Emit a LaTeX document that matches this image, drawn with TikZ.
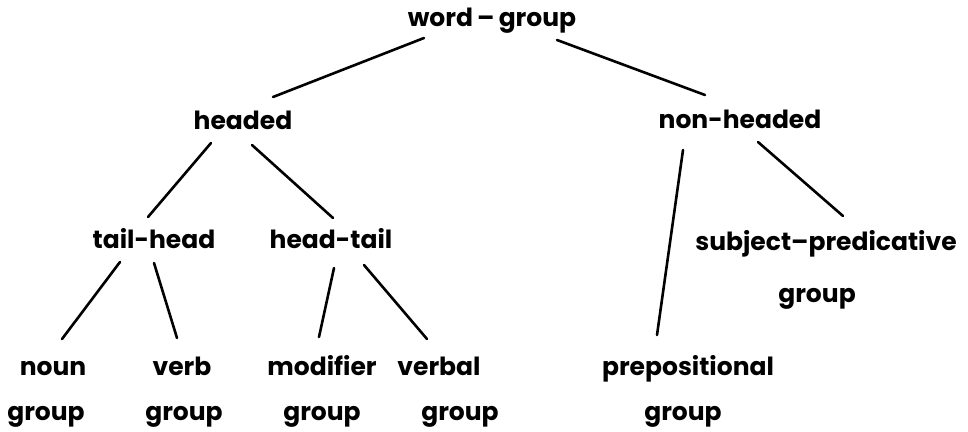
\documentclass[tikz,border=0pt]{standalone}
\usepackage{fontspec}
\setmainfont{Poppins}
\begin{document}
\begin{tikzpicture}[x=1pt,y=-1pt,
  lbl/.style={anchor=base,inner sep=0pt,font=\fontsize{25}{30}\selectfont\bfseries},
  edge/.style={line width=2.6pt,line cap=round}]
\useasboundingbox (0,0) rectangle (968,431);
% nodes
\node[lbl] (wg) at (492,27) {word\,–\,group};
\node[lbl] (hd) at (243,129) {headed};
\node[lbl] (nh) at (740,128) {non-headed};
\node[lbl] (th) at (154,248) {tail-head};
\node[lbl] (ht) at (331,248) {head-tail};
\node[lbl] (sp) at (826,250) {subject–predicative};
\node[lbl] (spg) at (817,302) {group};
\node[lbl] (noun) at (53,375) {noun};
\node[lbl] (verb) at (182,375) {verb};
\node[lbl] (mod) at (322,375) {modifier};
\node[lbl] (vbl) at (439,375) {verbal};
\node[lbl] (prep) at (688,375) {prepositional};
\node[lbl] (g1) at (46,420) {group};
\node[lbl] (g2) at (184,420) {group};
\node[lbl] (g3) at (322,420) {group};
\node[lbl] (g4) at (460,420) {group};
\node[lbl] (g5) at (683,420) {group};
% connectors
\draw[edge] ([shift={(-68,11)}]wg.base) -- ([shift={(30,-32)}]hd.base);
\draw[edge] ([shift={(65,13)}]wg.base) -- ([shift={(-35,-33)}]nh.base);
\draw[edge] ([shift={(-32,14)}]hd.base) -- ([shift={(-6,-31)}]th.base);
\draw[edge] ([shift={(9,16)}]hd.base) -- ([shift={(2,-30)}]ht.base);
\draw[edge] ([shift={(-57,22)}]nh.base) -- ([shift={(-31,-40)}]prep.base);
\draw[edge] ([shift={(18,14)}]nh.base) -- ([shift={(17,-34)}]sp.base);
\draw[edge] ([shift={(-34,14)}]th.base) -- ([shift={(9,-36)}]noun.base);
\draw[edge] ([shift={(0,15)}]th.base) -- ([shift={(-5,-37)}]verb.base);
\draw[edge] ([shift={(3,20)}]ht.base) -- ([shift={(-3,-38)}]mod.base);
\draw[edge] ([shift={(33,17)}]ht.base) -- ([shift={(-12,-36)}]vbl.base);
\end{tikzpicture}
\end{document}
